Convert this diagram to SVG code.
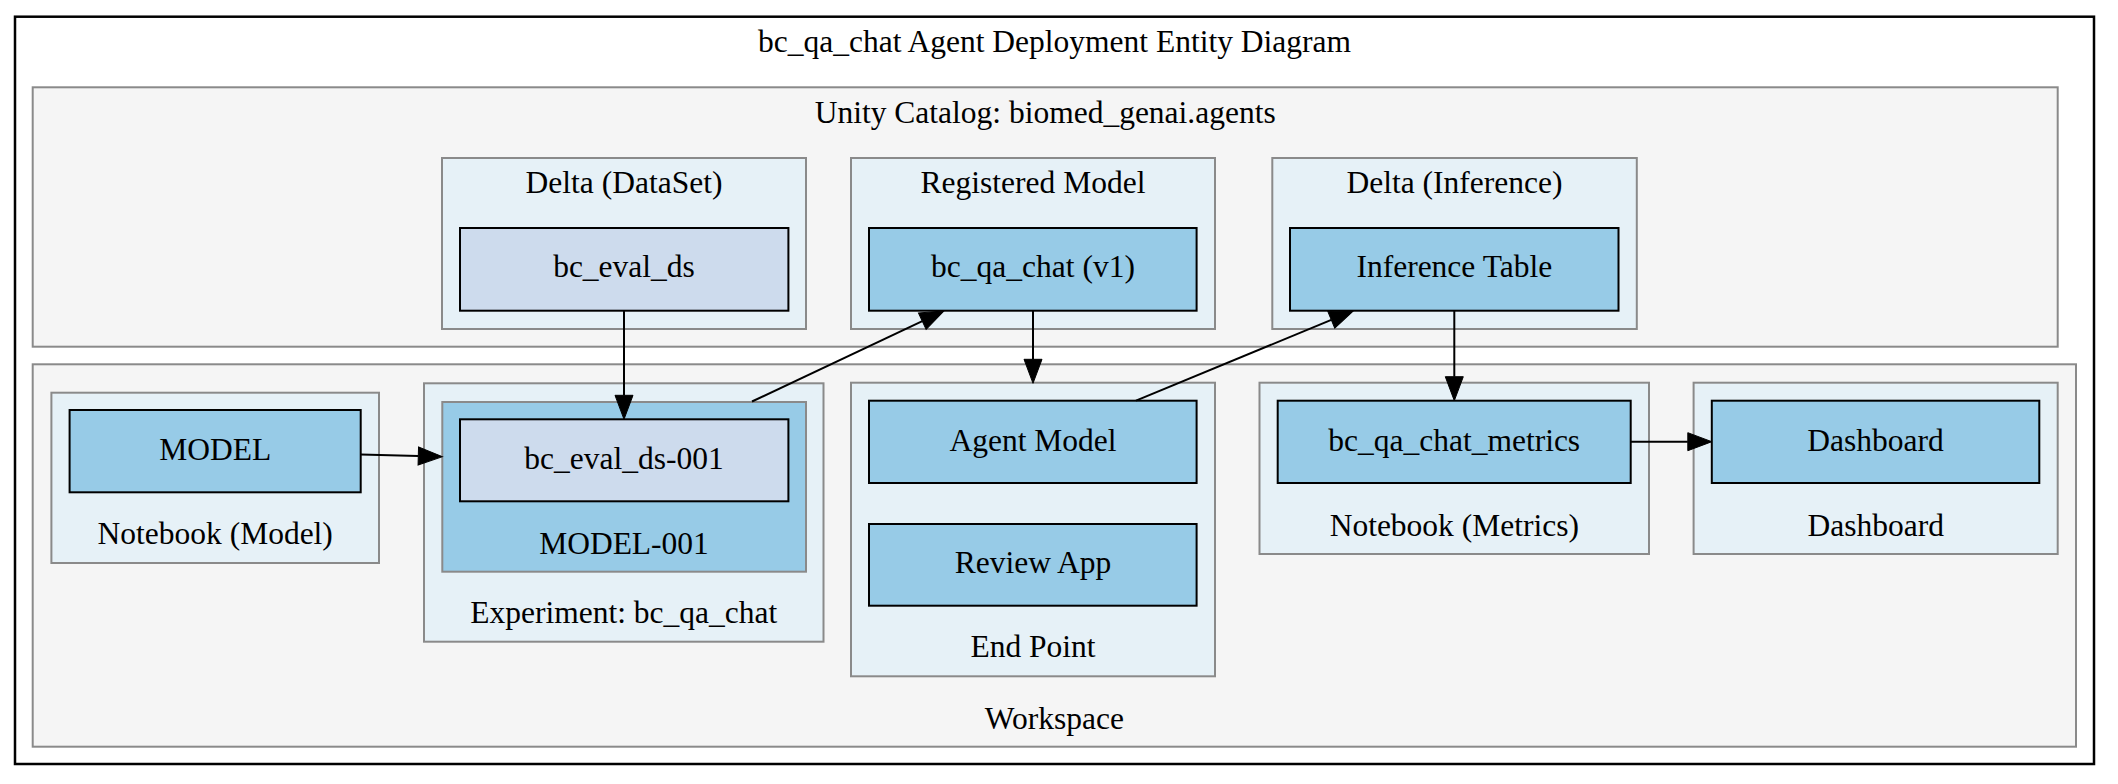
<svg xmlns="http://www.w3.org/2000/svg" width="2118" height="784" viewBox="0 0 2118 784">
<style>
text{font-family:"Liberation Serif","Times New Roman",serif;font-size:31.5px;fill:#000;text-anchor:middle}
.outer{fill:#ffffff;stroke:#000;stroke-width:2.5}
.big{fill:#f5f5f5;stroke:#8a8a8a;stroke-width:2}
.sub{fill:#e6f1f7;stroke:#8a8a8a;stroke-width:2}
.subb{fill:#97cbe7;stroke:#8a8a8a;stroke-width:2}
.node{fill:#97cbe7;stroke:#000;stroke-width:2}
.node2{fill:#cddbed;stroke:#000;stroke-width:2}
.edge{fill:none;stroke:#000;stroke-width:2}
</style>
<defs>
<marker id="arr" markerUnits="userSpaceOnUse" markerWidth="26" markerHeight="20" refX="0" refY="9" orient="auto" overflow="visible">
<path d="M0,0 L24,9 L0,18 Z" fill="#000" stroke="#000" stroke-width="1"/>
</marker>
</defs>
<rect class="outer" x="15" y="16.7" width="2079" height="747.3"/>
<text x="1054.5" y="52">bc_qa_chat Agent Deployment Entity Diagram</text>

<g id="cluster_unity">
<rect class="big" x="32.7" y="87.3" width="2025" height="259.4"/>
<text x="1045.2" y="122.7">Unity Catalog: biomed_genai.agents</text>
</g>
<g id="cluster_delta_dataset">
<rect class="sub" x="442" y="158" width="364" height="171"/>
<text x="624" y="192.7">Delta (DataSet)</text>
</g>
<g id="cluster_registered_model">
<rect class="sub" x="851" y="158" width="364" height="171"/>
<text x="1033" y="192.7">Registered Model</text>
</g>
<g id="cluster_delta_inference">
<rect class="sub" x="1272.3" y="158" width="364.5" height="171"/>
<text x="1454.5" y="192.7">Delta (Inference)</text>
</g>

<g id="cluster_workspace">
<rect class="big" x="32.7" y="364.3" width="2043.3" height="382.4"/>
<text x="1054.3" y="729">Workspace</text>
</g>
<g id="cluster_notebook_model">
<rect class="sub" x="51.4" y="392.7" width="327.6" height="170.3"/>
<text x="215.2" y="544">Notebook (Model)</text>
</g>
<g id="cluster_experiment">
<rect class="sub" x="424" y="383.3" width="399.5" height="258.4"/>
<text x="623.7" y="623.3">Experiment: bc_qa_chat</text>
</g>
<g id="cluster_model_001">
<rect class="subb" x="442.3" y="402" width="363.7" height="169.7"/>
<text x="624" y="554">MODEL-001</text>
</g>
<g id="cluster_endpoint">
<rect class="sub" x="851" y="382.7" width="364" height="293.6"/>
<text x="1033" y="657.3">End Point</text>
</g>
<g id="cluster_notebook_metrics">
<rect class="sub" x="1259.5" y="382.7" width="389.5" height="171.3"/>
<text x="1454.3" y="535.7">Notebook (Metrics)</text>
</g>
<g id="cluster_dashboard">
<rect class="sub" x="1693.6" y="382.7" width="364.1" height="171.3"/>
<text x="1875.7" y="535.7">Dashboard</text>
</g>

<g id="node_bc_eval_ds">
<rect class="node2" x="460" y="228" width="328.4" height="82.7"/>
<text x="624" y="277">bc_eval_ds</text>
</g>
<g id="node_bc_qa_chat_v1">
<rect class="node" x="869" y="228" width="327.6" height="82.7"/>
<text x="1033" y="277">bc_qa_chat (v1)</text>
</g>
<g id="node_inference_table">
<rect class="node" x="1290" y="228" width="328.5" height="82.7"/>
<text x="1454.3" y="277">Inference Table</text>
</g>
<g id="node_model">
<rect class="node" x="69.6" y="410" width="291.1" height="82.3"/>
<text x="215.2" y="460">MODEL</text>
</g>
<g id="node_bc_eval_ds_001">
<rect class="node2" x="460" y="419.3" width="328.4" height="82"/>
<text x="624" y="469">bc_eval_ds-001</text>
</g>
<g id="node_agent_model">
<rect class="node" x="869" y="400.7" width="327.6" height="82.3"/>
<text x="1033" y="450.7">Agent Model</text>
</g>
<g id="node_review_app">
<rect class="node" x="869" y="524" width="327.6" height="81.7"/>
<text x="1033" y="573">Review App</text>
</g>
<g id="node_bc_qa_chat_metrics">
<rect class="node" x="1277.7" y="400.7" width="353" height="82.3"/>
<text x="1454.2" y="450.7">bc_qa_chat_metrics</text>
</g>
<g id="node_dashboard">
<rect class="node" x="1711.8" y="400.7" width="327.5" height="82.3"/>
<text x="1875.5" y="450.7">Dashboard</text>
</g>

<g id="connectors">
<path class="edge" d="M624,310.7 L624,395.3" marker-end="url(#arr)"/>
<path class="edge" d="M752,401.5 L922.3,321.2" marker-end="url(#arr)"/>
<path class="edge" d="M1033,310.7 L1033,359.3" marker-end="url(#arr)"/>
<path class="edge" d="M1136,400.7 L1331.3,319.9" marker-end="url(#arr)"/>
<path class="edge" d="M1454.3,310.7 L1454.3,376.7" marker-end="url(#arr)"/>
<path class="edge" d="M1630.7,441.7 L1687.8,441.7" marker-end="url(#arr)"/>
<path class="edge" d="M360.7,454.5 L418.3,456" marker-end="url(#arr)"/>
</g>
</svg>
